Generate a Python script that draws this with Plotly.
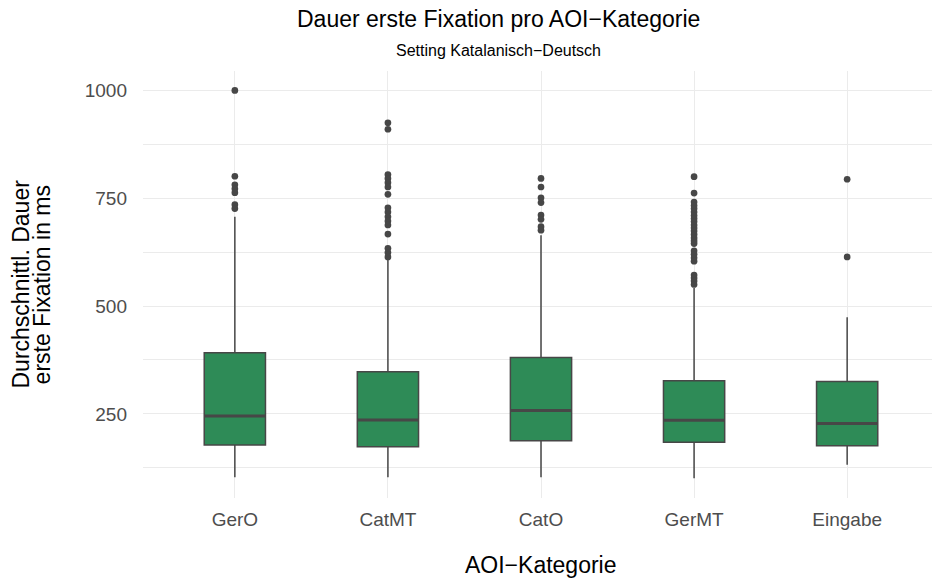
import plotly.graph_objects as go

# ---- data ----
categories = ["GerO", "CatMT", "CatO", "GerMT", "Eingabe"]
q1 = [178, 174, 188, 184, 176]
medians = [245, 236, 258, 235, 228]
q3 = [392, 348, 381, 327, 325]
lower_whisker = [103, 103, 103, 101, 132]
upper_whisker = [707, 609, 664, 542, 474]

outliers_gero = [1000, 801, 781, 772, 763, 735, 726]
outliers_catmt = [925, 910, 805, 796, 786, 776, 759, 728, 718, 707, 697, 688, 667, 634, 624, 614]
outliers_cato = [796, 776, 751, 740, 711, 701, 684, 676]
outliers_germt = [800, 762, 741, 733, 726, 718, 710, 703, 696, 688, 681, 674, 666, 658,
                  651, 645, 628, 620, 612, 604, 572, 565, 558, 550]
outliers_eingabe = [794, 614]
outliers = [outliers_gero, outliers_catmt, outliers_cato, outliers_germt, outliers_eingabe]

y_ticks = [250, 500, 750, 1000]
y_minor = [125, 375, 625, 875]

# ---- style ----
FONT = "Liberation Sans, Arial, Helvetica, sans-serif"
FILL = "#2E8B57"
LINE = "#474747"
GRID = "#EBEBEB"
BOX_W = 0.4

pos = list(range(len(categories)))

fig = go.Figure()
fig.add_trace(go.Box(
    x=pos, q1=q1, median=medians, q3=q3,
    lowerfence=lower_whisker, upperfence=upper_whisker,
    width=BOX_W, whiskerwidth=0, boxpoints=False,
    fillcolor=FILL, line=dict(color=LINE, width=1.5),
    showlegend=False, hoverinfo="skip",
))

# thicker median lines
mx, my = [], []
for i, m in zip(pos, medians):
    mx += [i - BOX_W / 2, i + BOX_W / 2, None]
    my += [m, m, None]
fig.add_trace(go.Scatter(x=mx, y=my, mode="lines",
                         line=dict(color=LINE, width=3), showlegend=False,
                         hoverinfo="skip"))

# outliers
ox, oy = [], []
for i, vals in zip(pos, outliers):
    ox += [i] * len(vals)
    oy += vals
fig.add_trace(go.Scatter(x=ox, y=oy, mode="markers",
                         marker=dict(color=LINE, size=6.7, line=dict(width=0)),
                         showlegend=False, hoverinfo="skip"))

# page body has an 8px margin: the figure is sized/offset to compensate
fig.update_layout(
    width=932, height=572,
    margin=dict(l=135, r=1, t=63, b=82),
    plot_bgcolor="white", paper_bgcolor="white",
    font=dict(family=FONT, color="black"),
    xaxis=dict(range=[-0.6, 4.6], tickvals=pos, ticktext=categories,
               showgrid=True, gridcolor=GRID, gridwidth=1.1,
               zeroline=False, showline=False, ticks="",
               ticklabelstandoff=8,
               tickfont=dict(size=19, color="#4D4D4D", family=FONT)),
    yaxis=dict(range=[55, 1045], tickvals=y_ticks,
               showgrid=True, gridcolor=GRID, gridwidth=1.1,
               minor=dict(tickvals=y_minor, showgrid=True, gridcolor=GRID, gridwidth=0.6),
               zeroline=False, showline=False, ticks="",
               ticklabelstandoff=15,
               tickfont=dict(size=19, color="#4D4D4D", family=FONT)),
    annotations=[
        dict(text="Dauer erste Fixation pro AOI\u2212Kategorie", xref="paper", yref="paper",
             x=0.446, y=1.122, xanchor="center", yanchor="middle", showarrow=False,
             font=dict(size=23, color="black", family=FONT)),
        dict(text="Setting Katalanisch\u2212Deutsch", xref="paper", yref="paper",
             x=0.446, y=1.049, xanchor="center", yanchor="middle", showarrow=False,
             font=dict(size=16, color="black", family=FONT)),
        dict(text="AOI\u2212Kategorie", xref="paper", yref="paper",
             x=0.5, y=-0.157, xanchor="center", yanchor="middle", showarrow=False,
             font=dict(size=23, color="black", family=FONT)),
        dict(text="Durchschnittl. Dauer", xref="paper", yref="paper",
             x=-0.1545, y=0.5, xanchor="center", yanchor="middle", showarrow=False,
             textangle=-90, font=dict(size=23, color="black", family=FONT)),
        dict(text="erste Fixation in ms", xref="paper", yref="paper",
             x=-0.127, y=0.5, xanchor="center", yanchor="middle", showarrow=False,
             textangle=-90, font=dict(size=23, color="black", family=FONT)),
    ],
)

fig.write_html("out.html")
